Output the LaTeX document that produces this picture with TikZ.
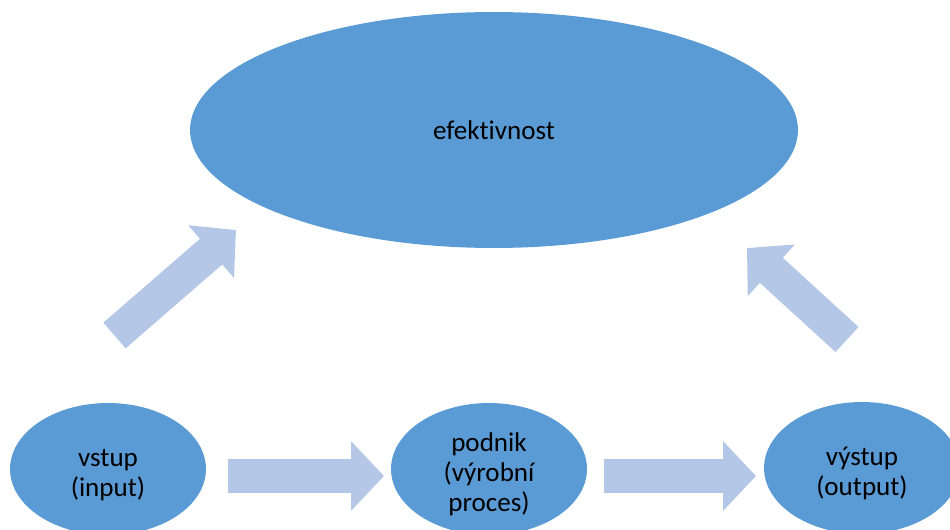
\documentclass[tikz,border=0pt]{standalone}
\usepackage{fontspec}
\setmainfont{Carlito}[Ligatures=NoCommon]
\usetikzlibrary{shapes.geometric}
\usetikzlibrary{arrows.meta}
\definecolor{ovalblue}{HTML}{5B9BD5}
\definecolor{flowblue}{HTML}{B4C7E7}
\newcommand{\toplift}{\rule{0pt}{16.5pt}}
\tikzset{
  oval/.style={ellipse,fill=ovalblue,inner sep=0pt,align=center,font=\fontsize{15.4}{17}\selectfont},
  smalloval/.style={oval,minimum width=3.92cm,minimum height=2.64cm},
  flow/.style={flowblue,line width=0.68cm,-{Triangle[length=0.66cm,width=1.36cm]}}
}
\begin{document}
\begin{tikzpicture}[x=0.02cm,y=-0.02cm]
\useasboundingbox (0,0) rectangle (950,530);

\node[oval,minimum width=12.16cm,minimum height=4.72cm] (eff) at (494,130) {efektivnost};

\node[smalloval] (in) at (108,469) {\toplift vstup\\(input)};
\node[smalloval] (firm) at (489,469) {\toplift podnik\\(výrobní\\proces)};
\node[smalloval] (out) at (862,468) {\toplift výstup\\(output)};

\coordinate (in-tail) at (228,476);
\coordinate (firm-head) at (384,476);
\coordinate (firm-tail) at (604,476);
\coordinate (out-head) at (756,476);
\coordinate (in-up) at (114.5,335.5);
\coordinate (eff-left) at (236,230);
\coordinate (out-up) at (847,339.5);
\coordinate (eff-right) at (747,248);

\draw[flow] (in-tail) -- (firm-head);
\draw[flow] (firm-tail) -- (out-head);
\draw[flow] (in-up) -- (eff-left);
\draw[flow] (out-up) -- (eff-right);

\end{tikzpicture}
\end{document}
